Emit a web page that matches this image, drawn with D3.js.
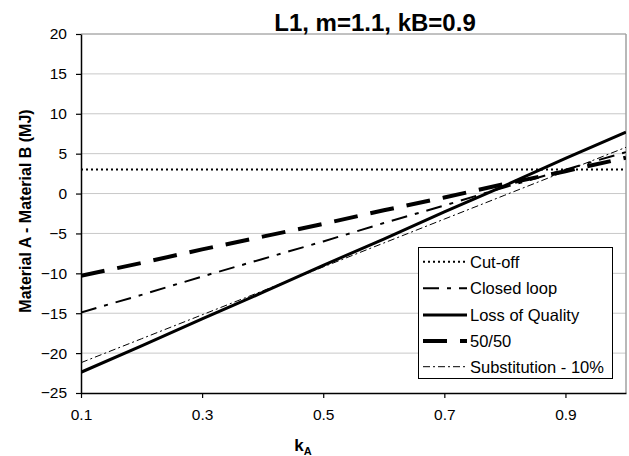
<!DOCTYPE html>
<html>
<head>
<meta charset="utf-8">
<script src="https://cdn.jsdelivr.net/npm/d3@7"></script>
<style>
  html, body { margin: 0; padding: 0; background: #fff; }
  svg { display: block; font-family: "Liberation Sans", Arial, sans-serif; }
</style>
</head>
<body>
<svg id="chart" width="629" height="456"></svg>
<script>
// ---- data ----
const kValues = [0.1, 0.2, 0.3, 0.4, 0.5, 0.6, 0.7, 0.8, 0.9, 1.0];
const cutOff        = [3.0, 3.0, 3.0, 3.0, 3.0, 3.0, 3.0, 3.0, 3.0, 3.0];
const closedLoop    = [-14.9, -12.7, -10.4, -8.2, -6.0, -3.7, -1.5, 0.8, 3.0, 5.2];
const lossOfQuality = [-22.4, -19.1, -15.7, -12.4, -9.0, -5.7, -2.3, 1.0, 4.4, 7.7];
const fiftyFifty    = [-10.3, -8.7, -7.0, -5.4, -3.8, -2.1, -0.5, 1.2, 2.8, 4.5];
const substitution  = [-21.2, -18.2, -15.2, -12.2, -9.2, -6.2, -3.2, -0.2, 2.8, 5.8];
const seriesNames   = ["Cut-off", "Closed loop", "Loss of Quality", "50/50", "Substitution - 10%"];
const yTicks = [-25, -20, -15, -10, -5, 0, 5, 10, 15, 20];
const xTicks = [0.1, 0.3, 0.5, 0.7, 0.9];
const titleText = "L1, m=1.1, kB=0.9";
const yLabel = "Material A - Material B (MJ)";

// ---- styles ----
const styles = [
  { w: 2,   dash: "2,3" },
  { w: 2,   dash: "16,8,4,8" },
  { w: 3,   dash: null },
  { w: 4,   dash: "24,13" },
  { w: 1,   dash: "7,3,2,3" }
];
const seriesData = [cutOff, closedLoop, lossOfQuality, fiftyFifty, substitution];

const svg = d3.select("#chart");
const L = 81, R = 626, T = 34, B = 393;
const x = d3.scaleLinear().domain([0.1, 1.0]).range([L, R]);
const y = d3.scaleLinear().domain([-25, 20]).range([B, T]);

// gridlines
svg.append("g").selectAll("line").data(yTicks.filter(d => d > -25)).join("line")
  .attr("x1", L).attr("x2", R)
  .attr("y1", d => y(d)).attr("y2", d => y(d))
  .attr("stroke", "#c8c8c8").attr("stroke-width", 1);
// right border
svg.append("line").attr("x1", R).attr("x2", R).attr("y1", T).attr("y2", B)
  .attr("stroke", "#a0a0a0").attr("stroke-width", 1.5);
svg.append("line").attr("x1", L).attr("x2", R).attr("y1", y(20)).attr("y2", y(20))
  .attr("stroke", "#a0a0a0").attr("stroke-width", 1.2);

// series
const line = d3.line().x((d, i) => x(kValues[i])).y(d => y(d));
const clip = svg.append("clipPath").attr("id", "clip").append("rect")
  .attr("x", L).attr("y", T).attr("width", R - L).attr("height", B - T);
seriesData.forEach((s, i) => {
  svg.append("path").datum(s)
    .attr("clip-path", "url(#clip)")
    .attr("d", line)
    .attr("fill", "none")
    .attr("stroke", "#000")
    .attr("stroke-width", styles[i].w)
    .attr("stroke-dasharray", styles[i].dash);
});

// axes
const yAxis = svg.append("g").attr("transform", `translate(${L},0)`)
  .call(d3.axisLeft(y).tickValues(yTicks).tickSize(5).tickSizeOuter(0).tickPadding(9));
const xAxis = svg.append("g").attr("transform", `translate(0,${B})`)
  .call(d3.axisBottom(x).tickValues(xTicks).tickSize(5).tickSizeOuter(0).tickPadding(11)
    .tickFormat(d3.format(".1f")));
[yAxis, xAxis].forEach(a => {
  a.selectAll("path.domain").attr("stroke", "#000").attr("stroke-width", 1.5);
  a.selectAll(".tick line").attr("stroke", "#000").attr("stroke-width", 1.2);
  a.selectAll("text").attr("font-size", 15.5).attr("fill", "#000")
    .attr("font-family", "'Liberation Sans', Arial, sans-serif");
});

// title
svg.append("text").attr("x", 375).attr("y", 31).attr("text-anchor", "middle")
  .attr("font-size", 24).attr("font-weight", "bold").text(titleText);

// y label
svg.append("text").attr("transform", "translate(25,211) rotate(-90)")
  .attr("text-anchor", "middle").attr("dy", "0.35em")
  .attr("font-size", 16).attr("font-weight", "bold").text(yLabel);

// x label
const xl = svg.append("text").attr("x", 303).attr("y", 451)
  .attr("text-anchor", "middle").attr("font-weight", "bold").attr("font-size", 17);
xl.append("tspan").text("k");
xl.append("tspan").attr("font-size", 11).attr("dy", 4).text("A");

// legend
const lg = svg.append("g");
lg.append("rect").attr("x", 418.5).attr("y", 247.5).attr("width", 194).attr("height", 131)
  .attr("fill", "#fff").attr("stroke", "#000").attr("stroke-width", 1);
const legY = [261.7, 288.3, 315, 341, 366.7];
seriesNames.forEach((n, i) => {
  lg.append("line").attr("x1", 423).attr("x2", 467)
    .attr("y1", legY[i]).attr("y2", legY[i])
    .attr("stroke", "#000").attr("stroke-width", styles[i].w)
    .attr("stroke-dasharray", styles[i].dash);
  lg.append("text").attr("x", 470).attr("y", legY[i]).attr("dy", "0.36em")
    .attr("font-size", 16.5).text(n);
});
</script>
</body>
</html>
